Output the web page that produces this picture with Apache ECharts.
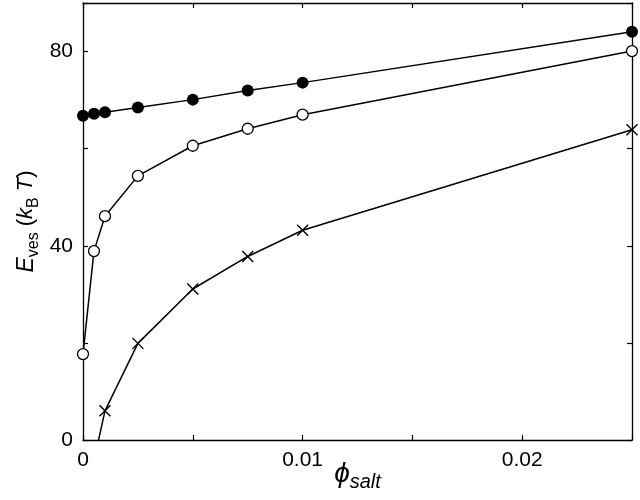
<!DOCTYPE html>
<html>
<head>
<meta charset="utf-8">
<script src="https://cdn.jsdelivr.net/npm/echarts@6/dist/echarts.min.js"></script>
<style>
  html, body { margin: 0; padding: 0; background: #fff; }
  #chart { width: 640px; height: 500px; }
</style>
</head>
<body>
<div id="chart"></div>
<script>
// phi_salt values (x) and the three curves
var phiSalt = [0, 0.0005, 0.001, 0.0025, 0.005, 0.0075, 0.01, 0.025];
var filledVals = [66.8, 67.2, 67.5, 68.5, 70.1, 72.0, 73.6, 84.1];
var openVals = [17.7, 38.9, 46.1, 54.4, 60.6, 64.1, 67.0, 80.1];
var crossVals = [null, -4.3, 6.0, 19.9, 31.1, 37.8, 43.2, 63.9];

var xLabels = [0, 0.01, 0.02];
var yLabels = [0, 40, 80];

function pairs(vals) {
    var out = [];
    for (var i = 0; i < phiSalt.length; i++) {
        if (vals[i] !== null) out.push([phiSalt[i], vals[i]]);
    }
    return out;
}

var font = 'Liberation Sans, Arial, sans-serif';
var chart = echarts.init(document.getElementById('chart'));

var baseAxis = {
    axisLine: { onZero: false, lineStyle: { color: '#000', width: 1.3 } },
    axisTick: { inside: true, length: 5, lineStyle: { color: '#000', width: 1.2 } },
    splitLine: { show: false }
};

var option = {
    animation: false,
    backgroundColor: '#fff',
    grid: { left: 83, right: 8, top: 3, bottom: 60, outerBoundsMode: 'none', containLabel: false },
    xAxis: [
        Object.assign({}, baseAxis, {
            type: 'value', min: 0, max: 0.025, interval: 0.005,
            axisLabel: {
                color: '#000', fontSize: 21, fontFamily: font, margin: 10,
                formatter: function (v) {
                    var r = Math.round(v * 1000) / 1000;
                    return xLabels.indexOf(r) >= 0 ? String(r) : '';
                }
            },
            name: '{phi|ϕ}{sub|salt}',
            nameLocation: 'middle',
            nameMoveOverlap: false,
            nameGap: 20,
            nameTextStyle: {
                rich: {
                    phi: { fontSize: 28, fontStyle: 'italic', fontFamily: font, color: '#000', lineHeight: 30, verticalAlign: 'top' },
                    sub: { fontSize: 20, fontStyle: 'italic', fontFamily: font, color: '#000', lineHeight: 22, padding: [12, 0, 0, 0], verticalAlign: 'top' }
                }
            }
        }),
        Object.assign({}, baseAxis, {
            type: 'value', min: 0, max: 0.025, interval: 0.005, position: 'top',
            axisLabel: { show: false }
        })
    ],
    yAxis: [
        Object.assign({}, baseAxis, {
            type: 'value', min: 0, max: 90, interval: 20,
            axisLabel: {
                color: '#000', fontSize: 21, fontFamily: font, margin: 10,
                formatter: function (v) {
                    return yLabels.indexOf(v) >= 0 ? String(v) : '';
                }
            },
            name: '{e|E}{sub|ves}{n| (}{i|k}{sub|B}{i| T}{n|)}',
            nameLocation: 'middle',
            nameMoveOverlap: false,
            nameGap: 44,
            nameTextStyle: {
                rich: {
                    e: { fontSize: 23, fontStyle: 'italic', fontFamily: font, color: '#000', lineHeight: 24, verticalAlign: 'top' },
                    n: { fontSize: 22, fontFamily: font, color: '#000', lineHeight: 24, verticalAlign: 'top' },
                    i: { fontSize: 22, fontStyle: 'italic', fontFamily: font, color: '#000', lineHeight: 24, verticalAlign: 'top' },
                    sub: { fontSize: 16, fontFamily: font, color: '#000', lineHeight: 18, padding: [11, 0, 0, 0], verticalAlign: 'top' }
                }
            }
        }),
        Object.assign({}, baseAxis, {
            type: 'value', min: 0, max: 90, interval: 20, position: 'right',
            axisLabel: { show: false }
        })
    ],
    series: [
        {
            name: 'filled', type: 'line', data: pairs(filledVals),
            symbol: 'circle', symbolSize: 12,
            itemStyle: { color: '#000' },
            lineStyle: { color: '#000', width: 1.5 }
        },
        {
            name: 'open', type: 'line', data: pairs(openVals),
            symbol: 'circle', symbolSize: 11,
            itemStyle: { color: '#fff', borderColor: '#000', borderWidth: 1.3 },
            lineStyle: { color: '#000', width: 1.5 }
        },
        {
            name: 'cross', type: 'line', data: pairs(crossVals),
            symbol: 'path://M0,0L10,10M10,0L0,10', symbolSize: 11,
            itemStyle: { color: '#000', borderColor: '#000', borderWidth: 1.4 },
            lineStyle: { color: '#000', width: 1.5 },
            clip: true
        }
    ]
};

chart.setOption(option);
</script>
</body>
</html>
